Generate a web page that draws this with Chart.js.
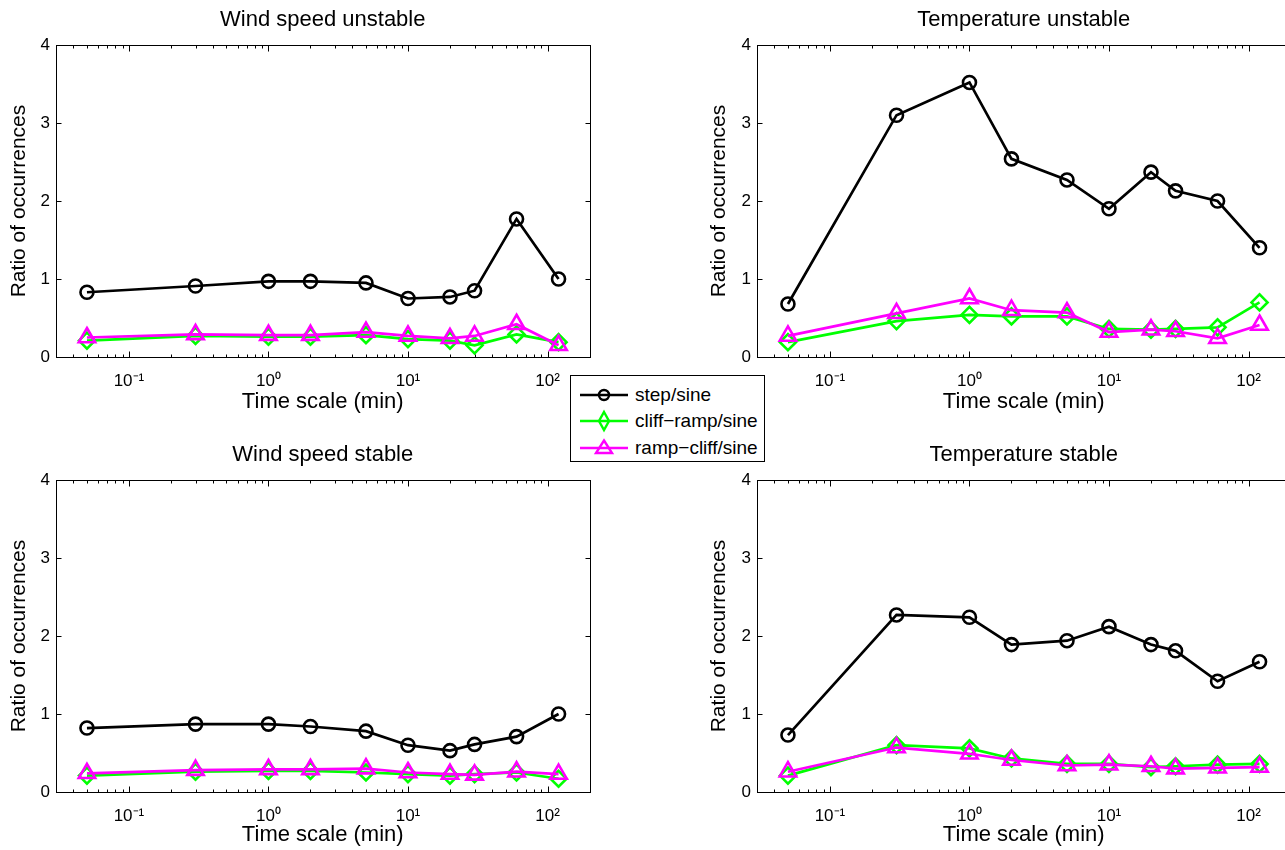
<!DOCTYPE html>
<html>
<head>
<meta charset="utf-8">
<title>Ratio of occurrences</title>
<script src="https://cdn.jsdelivr.net/npm/chart.js@4.4.0/dist/chart.umd.min.js"></script>
<style>
  html, body { margin: 0; padding: 0; background: #fff; overflow: hidden; }
  body { width: 1285px; height: 850px; position: relative; font-family: 'Liberation Sans', Arial, Helvetica, sans-serif; }
  canvas { position: absolute; }
  #legend {
    position: absolute; left: 570px; top: 375px; width: 195px; height: 87px;
    box-sizing: border-box; border: 1px solid #000; background: #fff;
  }
  #legend .row { position: absolute; left: 9px; height: 24px; display: flex; align-items: center; }
  #legend svg { display: block; }
  #legend span { font-size: 19px; color: #000; margin-left: 7px; white-space: nowrap; }
</style>
</head>
<body>
<canvas id="windUnstable" width="642" height="425" style="left:0px;top:0px"></canvas>
<canvas id="tempUnstable" width="642" height="425" style="left:700px;top:0px"></canvas>
<canvas id="windStable" width="642" height="420" style="left:0px;top:430px"></canvas>
<canvas id="tempStable" width="642" height="420" style="left:700px;top:430px"></canvas>
<div id="legend"></div>

<script>
// Data
const timeScales = [0.05, 0.3, 1, 2, 5, 10, 20, 30, 60, 120];
const seriesNames = ['step/sine', 'cliff\u2212ramp/sine', 'ramp\u2212cliff/sine'];

const windUnstableStep  = [0.83, 0.91, 0.97, 0.97, 0.95, 0.75, 0.77, 0.85, 1.77, 1.00];
const windUnstableCliff = [0.21, 0.27, 0.26, 0.26, 0.28, 0.23, 0.21, 0.15, 0.29, 0.19];
const windUnstableRamp  = [0.25, 0.29, 0.28, 0.28, 0.32, 0.27, 0.24, 0.27, 0.42, 0.15];

const tempUnstableStep  = [0.68, 3.10, 3.52, 2.54, 2.27, 1.90, 2.37, 2.13, 2.00, 1.40];
const tempUnstableCliff = [0.19, 0.46, 0.54, 0.52, 0.52, 0.36, 0.35, 0.36, 0.38, 0.70];
const tempUnstableRamp  = [0.27, 0.56, 0.75, 0.60, 0.57, 0.32, 0.35, 0.33, 0.24, 0.41];

const windStableStep  = [0.82, 0.87, 0.87, 0.84, 0.78, 0.60, 0.53, 0.61, 0.71, 1.00];
const windStableCliff = [0.21, 0.26, 0.27, 0.27, 0.25, 0.23, 0.21, 0.23, 0.25, 0.17];
const windStableRamp  = [0.24, 0.28, 0.29, 0.29, 0.30, 0.25, 0.23, 0.22, 0.26, 0.23];

const tempStableStep  = [0.73, 2.27, 2.24, 1.89, 1.94, 2.12, 1.89, 1.81, 1.42, 1.67];
const tempStableCliff = [0.21, 0.60, 0.56, 0.43, 0.36, 0.36, 0.32, 0.33, 0.35, 0.36];
const tempStableRamp  = [0.26, 0.57, 0.49, 0.41, 0.34, 0.35, 0.33, 0.30, 0.31, 0.32];

// Axis ticks
const xTickValues = [0.1, 1, 10, 100];
const xTickLabels = ['10\u207B\u00B9', '10\u2070', '10\u00B9', '10\u00B2'];
const yTickValues = [0, 1, 2, 3, 4];

const colors = ['#000000', '#00ff00', '#ff00ff'];

Chart.defaults.font.family = "'Liberation Sans', Arial, Helvetica, sans-serif";
Chart.defaults.color = '#000';

// MATLAB style box with inward ticks on all four sides
const matlabAxes = {
  id: 'matlabAxes',
  afterDatasetsDraw(chart) {
    const { ctx, chartArea: a, scales: { x, y } } = chart;
    const L = Math.round(a.left) + 0.5, R = Math.round(a.right) + 0.5;
    const T = Math.round(a.top) + 0.5, B = Math.round(a.bottom) + 0.5;
    ctx.save();
    ctx.strokeStyle = '#000';
    ctx.lineWidth = 1;
    ctx.beginPath();
    for (let e = -2; e <= 2; e++) {
      for (let m = 1; m <= 9; m++) {
        const v = m * Math.pow(10, e);
        if (v < x.min || v > x.max) continue;
        const px = Math.round(x.getPixelForValue(v)) + 0.5;
        const len = m === 1 ? 6 : 3;
        ctx.moveTo(px, B); ctx.lineTo(px, B - len);
        ctx.moveTo(px, T); ctx.lineTo(px, T + len);
      }
    }
    yTickValues.forEach(v => {
      const py = Math.round(y.getPixelForValue(v)) + 0.5;
      ctx.moveTo(L, py); ctx.lineTo(L + 5, py);
      ctx.moveTo(R, py); ctx.lineTo(R - 5, py);
    });
    ctx.stroke();
    ctx.strokeRect(L, T, R - L, B - T);
    ctx.restore();
  }
};

function makeSeries(idx, values) {
  const styles = ['circle', 'rectRot', 'triangle'];
  const radii = [6.5, 8, 9.5];
  return {
    label: seriesNames[idx],
    data: timeScales.map((t, i) => ({ x: t, y: values[i] })),
    borderColor: colors[idx],
    backgroundColor: 'rgba(0,0,0,0)',
    borderWidth: 2.7,
    tension: 0,
    pointStyle: styles[idx],
    pointRadius: radii[idx],
    pointBorderWidth: 2.6,
    pointBorderColor: colors[idx],
    pointBackgroundColor: 'rgba(0,0,0,0)',
    order: 3 - idx
  };
}

function createPanel(canvasId, title, step, cliff, ramp, layout) {
  const ctx = document.getElementById(canvasId);
  if (!ctx) return;

  new Chart(ctx, {
    type: 'line',
    data: {
      datasets: [makeSeries(0, step), makeSeries(1, cliff), makeSeries(2, ramp)]
    },
    options: {
      responsive: false,
      animation: false,
      devicePixelRatio: 1,
      layout: {
        padding: { left: 0, top: 0, right: layout.padRight, bottom: layout.padBottom }
      },
      scales: {
        x: {
          type: 'logarithmic',
          min: 0.03,
          max: 200,
          afterBuildTicks: s => { s.ticks = xTickValues.map(v => ({ value: v })); },
          afterFit: s => { s.height = layout.xHeight; },
          grid: { display: false, drawTicks: false },
          border: { display: false },
          ticks: {
            autoSkip: false,
            maxRotation: 0,
            padding: 14,
            font: { size: 17 },
            color: '#000',
            callback: (v, i) => xTickLabels[i]
          },
          title: {
            display: true,
            text: 'Time scale (min)',
            font: { size: 22 },
            color: '#000',
            padding: { top: 0, bottom: 2 }
          }
        },
        y: {
          min: 0,
          max: 4,
          afterBuildTicks: s => { s.ticks = yTickValues.map(v => ({ value: v })); },
          afterFit: s => { s.width = layout.yWidth; },
          grid: { display: false, drawTicks: false },
          border: { display: false },
          ticks: {
            padding: 6,
            font: { size: 17 },
            color: '#000'
          },
          title: {
            display: true,
            text: 'Ratio of occurrences',
            font: { size: 21 },
            color: '#000',
            padding: { top: 7, bottom: 0 }
          }
        }
      },
      plugins: {
        legend: { display: false },
        tooltip: { enabled: false },
        title: {
          display: true,
          text: title,
          fullSize: false,
          color: '#000',
          font: { size: 22, weight: 'normal' },
          padding: layout.titlePad
        }
      }
    },
    plugins: [matlabAxes]
  });
}

// title box: padTop + 26.4 + padBottom
const topRow = { padBottom: 8, xHeight: 60, titlePad: { top: 6.5, bottom: 12.1 } };
const bottomRow = { padBottom: 0, xHeight: 58, titlePad: { top: 11.5, bottom: 12.1 } };

createPanel('windUnstable', 'Wind speed unstable', windUnstableStep, windUnstableCliff, windUnstableRamp,
  Object.assign({ yWidth: 56, padRight: 52.5 }, topRow));
createPanel('tempUnstable', 'Temperature unstable', tempUnstableStep, tempUnstableCliff, tempUnstableRamp,
  Object.assign({ yWidth: 57, padRight: 51.5 }, topRow));
createPanel('windStable', 'Wind speed stable', windStableStep, windStableCliff, windStableRamp,
  Object.assign({ yWidth: 56, padRight: 52.5 }, bottomRow));
createPanel('tempStable', 'Temperature stable', tempStableStep, tempStableCliff, tempStableRamp,
  Object.assign({ yWidth: 57, padRight: 51.5 }, bottomRow));

// Shared legend
function legendSymbol(idx) {
  const c = colors[idx];
  let marker;
  if (idx === 0) {
    marker = '<circle cx="24" cy="12" r="5" fill="none" stroke="' + c + '" stroke-width="2.4"/>';
  } else if (idx === 1) {
    marker = '<polygon points="24,3 29,12 24,21 19,12" fill="none" stroke="' + c + '" stroke-width="2.4"/>';
  } else {
    marker = '<polygon points="24,4.5 32,17 16,17" fill="none" stroke="' + c + '" stroke-width="2.4"/>';
  }
  return '<svg width="48" height="24"><line x1="0" y1="12" x2="48" y2="12" stroke="' + c +
    '" stroke-width="2.6"/>' + marker + '</svg>';
}

const legendEl = document.getElementById('legend');
const legendRows = [7, 33, 60];
seriesNames.forEach((name, i) => {
  const row = document.createElement('div');
  row.className = 'row';
  row.style.top = legendRows[i] + 'px';
  row.innerHTML = legendSymbol(i) + '<span>' + name + '</span>';
  legendEl.appendChild(row);
});
</script>
</body>
</html>
